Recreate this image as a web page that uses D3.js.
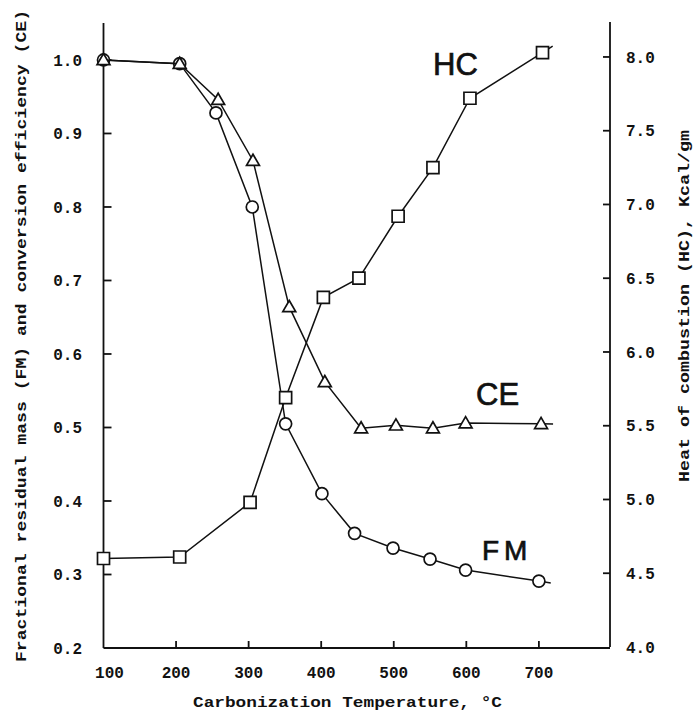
<!DOCTYPE html>
<html>
<head>
<meta charset="utf-8">
<script src="https://cdn.jsdelivr.net/npm/d3@7"></script>
<style>
  body { margin: 0; background: #fff; }
  svg { display: block; }
  .tick-label { font-family: "Liberation Mono", "DejaVu Sans Mono", monospace; font-size: 16px; font-weight: bold; fill: #111; }
  .axis-title { font-family: "Liberation Mono", "DejaVu Sans Mono", monospace; font-size: 15px; font-weight: bold; fill: #111; }
  .series-label { font-family: "Liberation Sans", Arial, sans-serif; font-size: 31px; fill: #111; stroke: #111; stroke-width: 0.7px; }
</style>
</head>
<body>
<div id="viz"></div>
<script>
// values
const fmTemps = [100, 205, 255, 305, 351, 401, 446, 499, 550, 599, 700];
const fmValues = [1.0, 0.995, 0.928, 0.80, 0.505, 0.41, 0.356, 0.336, 0.321, 0.306, 0.291];

const ceTemps = [100, 205, 258, 306, 356, 405, 455, 503, 554, 599, 703];
const ceValues = [1.0, 0.995, 0.946, 0.863, 0.664, 0.562, 0.499, 0.503, 0.499, 0.506, 0.505];

const hcTemps = [100, 205, 302, 351, 403, 452, 506, 554, 605, 705];
const hcValues = [4.60, 4.61, 4.98, 5.69, 6.37, 6.50, 6.92, 7.25, 7.72, 8.03];

const xTicks = [100, 200, 300, 400, 500, 600, 700];
const leftTicks = [0.2, 0.3, 0.4, 0.5, 0.6, 0.7, 0.8, 0.9, 1.0];
const rightTicks = [4.0, 4.5, 5.0, 5.5, 6.0, 6.5, 7.0, 7.5, 8.0];

const W = 697, H = 716;

const svg = d3.select("#viz")
  .append("svg")
    .attr("width", W)
    .attr("height", H);

const x = d3.scaleLinear().domain([100, 798]).range([103.5, 610]);
const yL = d3.scaleLinear().domain([0.2, 1.0503]).range([648, 23]);
const yR = d3.scaleLinear().domain([4.0, 8.237]).range([647, 22]);

// axis lines
const axes = svg.append("g")
  .attr("stroke", "#111")
  .attr("stroke-width", 1.8)
  .attr("fill", "none");

axes.append("line")
  .attr("x1", x(100)).attr("y1", yL(1.0503))
  .attr("x2", x(100)).attr("y2", yL(0.2));
axes.append("line")
  .attr("x1", x(100)).attr("y1", yL(0.2))
  .attr("x2", x(798)).attr("y2", yL(0.2));
axes.append("line")
  .attr("x1", x(798)).attr("y1", yR(8.237))
  .attr("x2", x(798)).attr("y2", yR(4.0));

// ticks (pointing inward)
axes.selectAll(".lt")
  .data(leftTicks.filter(d => d > 0.2))
  .join("line")
    .attr("x1", x(100)).attr("x2", x(100) + 8)
    .attr("y1", d => yL(d)).attr("y2", d => yL(d));

axes.selectAll(".rt")
  .data(rightTicks.filter(d => d > 4.0))
  .join("line")
    .attr("x1", x(798)).attr("x2", x(798) - 7)
    .attr("y1", d => yR(d)).attr("y2", d => yR(d));

axes.selectAll(".bt")
  .data(xTicks.filter(d => d > 100))
  .join("line")
    .attr("x1", d => x(d)).attr("x2", d => x(d))
    .attr("y1", yL(0.2)).attr("y2", yL(0.2) - 7);

// tick labels
svg.selectAll(".ll")
  .data(leftTicks)
  .join("text")
    .attr("class", "tick-label")
    .attr("x", 82)
    .attr("y", d => yL(d))
    .attr("dy", "0.35em")
    .attr("text-anchor", "end")
    .text(d => d.toFixed(1));

svg.selectAll(".rl")
  .data(rightTicks)
  .join("text")
    .attr("class", "tick-label")
    .attr("x", 626)
    .attr("y", d => yR(d))
    .attr("dy", "0.35em")
    .attr("text-anchor", "start")
    .text(d => d.toFixed(1));

svg.selectAll(".xl")
  .data(xTicks)
  .join("text")
    .attr("class", "tick-label")
    .attr("x", d => x(d) + (d === 100 ? 6 : 0))
    .attr("y", 678)
    .attr("text-anchor", "middle")
    .text(d => d);

// axis titles
svg.append("text")
  .attr("class", "axis-title")
  .attr("transform", "translate(26,336) rotate(-90)")
  .attr("text-anchor", "middle")
  .attr("textLength", 652)
  .attr("lengthAdjust", "spacingAndGlyphs")
  .text("Fractional residual mass (FM) and conversion efficiency (CE)");

svg.append("text")
  .attr("class", "axis-title")
  .attr("transform", "translate(689,306) rotate(-90)")
  .attr("text-anchor", "middle")
  .attr("textLength", 352)
  .attr("lengthAdjust", "spacingAndGlyphs")
  .text("Heat of combustion (HC), Kcal/gm");

svg.append("text")
  .attr("class", "axis-title")
  .attr("x", 347.5)
  .attr("y", 707)
  .attr("text-anchor", "middle")
  .attr("textLength", 309)
  .attr("lengthAdjust", "spacingAndGlyphs")
  .text("Carbonization Temperature, °C");

// series
const series = [
  {name: "FM", temps: fmTemps, values: fmValues, y: yL, marker: "circle"},
  {name: "CE", temps: ceTemps, values: ceValues, y: yL, marker: "triangle"},
  {name: "HC", temps: hcTemps, values: hcValues, y: yR, marker: "square"}
];

const symbols = {
  circle: d3.symbol().type(d3.symbolCircle).size(Math.PI * 36),
  triangle: d3.symbol().type(d3.symbolTriangle).size(72),
  square: d3.symbol().type(d3.symbolSquare).size(144)
};

series.forEach(s => {
  const pts = s.temps.map((t, i) => [x(t), s.y(s.values[i])]);

  // short tail past the last point, along the last segment
  const a = pts[pts.length - 2], b = pts[pts.length - 1];
  const len = Math.hypot(b[0] - a[0], b[1] - a[1]);
  const tail = [b[0] + (b[0] - a[0]) / len * 12, b[1] + (b[1] - a[1]) / len * 12];

  svg.append("path")
    .attr("d", d3.line()([...pts, tail]))
    .attr("fill", "none")
    .attr("stroke", "#111")
    .attr("stroke-width", 1.5);

  svg.append("g")
    .selectAll("path")
    .data(pts)
    .join("path")
      .attr("transform", d => `translate(${d[0]},${d[1] + (s.marker === "triangle" ? 1 : 0)})`)
      .attr("d", symbols[s.marker]())
      .attr("fill", "#fff")
      .attr("stroke", "#111")
      .attr("stroke-width", 1.7);
});

// series labels
svg.append("text").attr("class", "series-label")
  .attr("x", 433).attr("y", 75).text("HC");
svg.append("text").attr("class", "series-label")
  .attr("x", 476).attr("y", 405).text("CE");
svg.append("text").attr("class", "series-label")
  .attr("x", 482).attr("y", 560)
  .style("letter-spacing", "5px")
  .style("font-size", "28px")
  .text("FM");
</script>
</body>
</html>
